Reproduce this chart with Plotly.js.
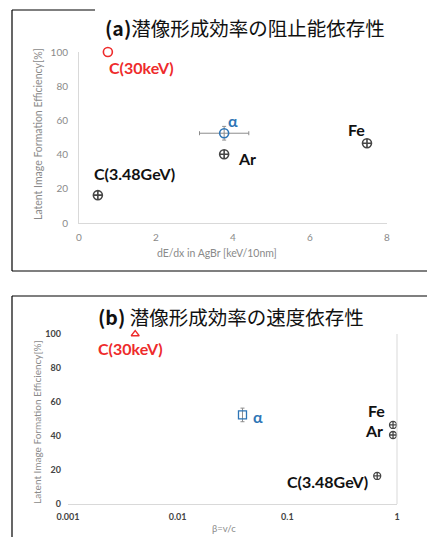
<!DOCTYPE html>
<html><head><meta charset="utf-8">
<script src="https://cdn.plot.ly/plotly-3.0.1.min.js"></script>
<style>html,body{margin:0;padding:0;background:#fff}#c{width:427px;height:537px}</style>
</head><body><div id="c"></div>
<script>
// ---- data ----
const particles = ['C(30keV)', 'α', 'Ar', 'Fe', 'C(3.48GeV)'];
const dedxA = [0.75, 3.77, 3.77, 7.48, 0.49];      // dE/dx in AgBr [keV/10nm]
const effA  = [100, 52.5, 40.2, 46.6, 16.3];       // efficiency [%]
const betaB = [0.0041, 0.039, 0.92, 0.92, 0.66];   // beta = v/c
const effB  = [100, 52.4, 40.6, 46.5, 16.5];
const alphaErrX = 0.64;
const alphaErrY = 4;
const xTicksA = [0, 2, 4, 6, 8];
const xTicksB = [0.001, 0.01, 0.1, 1];
const xTickTextB = ['0.001', '0.01', '0.1', '1'];
const yTicks = [0, 20, 40, 60, 80, 100];

// ---- styles ----
const W = 427, H = 537;
const px = v => v / W, py = v => 1 - v / H;
const RED = '#ee2b2b', BLUE = '#2e75b6', DARK = '#454545';
const markColor = ['red', 'blue', 'dark', 'dark', 'dark'].map(k => ({red: RED, blue: BLUE, dark: DARK})[k]);
const labColor = [RED, BLUE, '#111', '#111', '#111'];
const offA = [[34, -15], [9, 13], [23, -4], [-10, 14], [37, 22]];
const offB = [[-5, -14], [16, -2], [-19, 4], [-17, 14], [-50, -6]];
const LAB = {family: 'Lato, "Open Sans", sans-serif', size: 16, weight: 700};

const traces = [];
particles.forEach((p, i) => {
  const isA = i === 1;
  traces.push({
    type: 'scatter', mode: 'markers', x: [dedxA[i]], y: [effA[i]], xaxis: 'x', yaxis: 'y',
    marker: {symbol: isA ? 'circle-open' : (i === 0 ? 'circle-open' : 'circle-cross-open'), size: 9,
             color: markColor[i], line: {width: 1.6, color: markColor[i]}},
    error_x: isA ? {type: 'constant', value: alphaErrX, color: '#8c8c8c', thickness: 1, width: 2} : undefined,
    error_y: isA ? {type: 'constant', value: alphaErrY, color: '#8c8c8c', thickness: 1, width: 2} : undefined,
    cliponaxis: false, hoverinfo: 'skip', showlegend: false
  });
  traces.push({
    type: 'scatter', mode: 'markers', x: [betaB[i]], y: [effB[i]], xaxis: 'x2', yaxis: 'y2',
    marker: {symbol: i === 0 ? 'triangle-up-open' : (isA ? 'square-open' : 'circle-cross-open'), size: i === 1 ? 8 : 7,
             color: markColor[i], line: {width: 1.3, color: markColor[i]}},
    error_y: isA ? {type: 'constant', value: alphaErrY, color: '#8c8c8c', thickness: 1, width: 2} : undefined,
    cliponaxis: false, hoverinfo: 'skip', showlegend: false
  });
});

const annotations = [];
particles.forEach((p, i) => {
  annotations.push({xref: 'x', yref: 'y', x: dedxA[i], y: effA[i], text: p, showarrow: false,
    xshift: offA[i][0], yshift: offA[i][1], font: Object.assign({}, LAB, {color: labColor[i]})});
  annotations.push({xref: 'x2', yref: 'y2', x: Math.log10(betaB[i]), y: effB[i], text: p, showarrow: false,
    xshift: offB[i][0], yshift: offB[i][1], font: Object.assign({}, LAB, {color: labColor[i]})});
});
const TITLE = {family: '"Noto Sans CJK JP", sans-serif', size: 19.5, color: '#111'};
annotations.push({xref: 'paper', yref: 'paper', x: px(245), y: py(27), text: '<b>(a)</b>潜像形成効率の阻止能依存性',
  showarrow: false, xanchor: 'center', yanchor: 'middle', font: TITLE});
annotations.push({xref: 'paper', yref: 'paper', x: px(231), y: py(316), text: '<b>(b)</b> 潜像形成効率の速度依存性',
  showarrow: false, xanchor: 'center', yanchor: 'middle', font: TITLE});
const AX = {family: 'Lato, sans-serif', size: 10.5, color: '#8a8a8a'};
annotations.push({xref: 'paper', yref: 'paper', x: px(217), y: py(253), text: 'dE/dx in AgBr [keV/10nm]',
  showarrow: false, xanchor: 'center', yanchor: 'middle', font: AX});
annotations.push({xref: 'paper', yref: 'paper', x: px(38), y: py(134), text: 'Latent Image Formation Efficiency[%]',
  showarrow: false, xanchor: 'center', yanchor: 'middle', textangle: -90, font: Object.assign({}, AX, {size: 10.5})});
annotations.push({xref: 'paper', yref: 'paper', x: px(224), y: py(528), text: 'β=v/c',
  showarrow: false, xanchor: 'center', yanchor: 'middle', font: Object.assign({}, AX, {size: 9.5})});
annotations.push({xref: 'paper', yref: 'paper', x: px(37), y: py(422), text: 'Latent Image Formation Efficiency[%]',
  showarrow: false, xanchor: 'center', yanchor: 'middle', textangle: -90, font: Object.assign({}, AX, {size: 10})});

const frame = {type: 'line', xref: 'paper', yref: 'paper', line: {color: '#000', width: 1.2}};
const shapes = [
  Object.assign({}, frame, {x0: px(12), x1: px(95), y0: py(10), y1: py(10)}),
  Object.assign({}, frame, {x0: px(12), x1: px(12), y0: py(10), y1: py(271)}),
  Object.assign({}, frame, {x0: px(12), x1: 1, y0: py(271), y1: py(271)}),
  Object.assign({}, frame, {x0: px(12), x1: 1, y0: py(296), y1: py(296)}),
  Object.assign({}, frame, {x0: px(12), x1: px(12), y0: py(296), y1: 0}),
  {type: 'line', xref: 'x2 domain', yref: 'y2 domain', x0: 1, x1: 1, y0: 0, y1: 1, line: {color: '#d9d9d9', width: 1}}
];

const TICKA = {family: 'Lato, sans-serif', size: 10, color: '#8a8a8a'};
const TICKB = {family: 'Lato, sans-serif', size: 9, color: '#444', weight: 700};
const layout = {
  width: W, height: H, margin: {l: 0, r: 0, t: 0, b: 0}, paper_bgcolor: '#fff', plot_bgcolor: '#fff',
  showlegend: false,
  xaxis: {domain: [px(79), px(387)], range: [0, 8], anchor: 'y', tickvals: xTicksA, showgrid: false, zeroline: false,
          showline: true, linecolor: '#d9d9d9', linewidth: 1, ticks: '', tickfont: TICKA, ticklabelstandoff: 5},
  yaxis: {domain: [py(223), py(52)], range: [0, 100], anchor: 'x', tickvals: yTicks, showgrid: false, zeroline: false,
          showline: true, linecolor: '#d9d9d9', linewidth: 1, ticks: '', tickfont: TICKA, ticklabelstandoff: 8},
  xaxis2: {type: 'log', domain: [px(68), px(397)], range: [-3, 0], anchor: 'y2', tickvals: xTicksB, ticktext: xTickTextB,
           showgrid: false, zeroline: false, showline: true, linecolor: '#d9d9d9', linewidth: 1, ticks: '',
           tickfont: TICKB, ticklabelstandoff: 4},
  yaxis2: {domain: [py(504), py(334)], range: [0, 100], anchor: 'x2', tickvals: yTicks, showgrid: false, zeroline: false,
           showline: false, ticks: '', tickfont: TICKB, ticklabelstandoff: 6},
  annotations: annotations, shapes: shapes
};
Plotly.newPlot('c', traces, layout, {staticPlot: true});
</script></body></html>
